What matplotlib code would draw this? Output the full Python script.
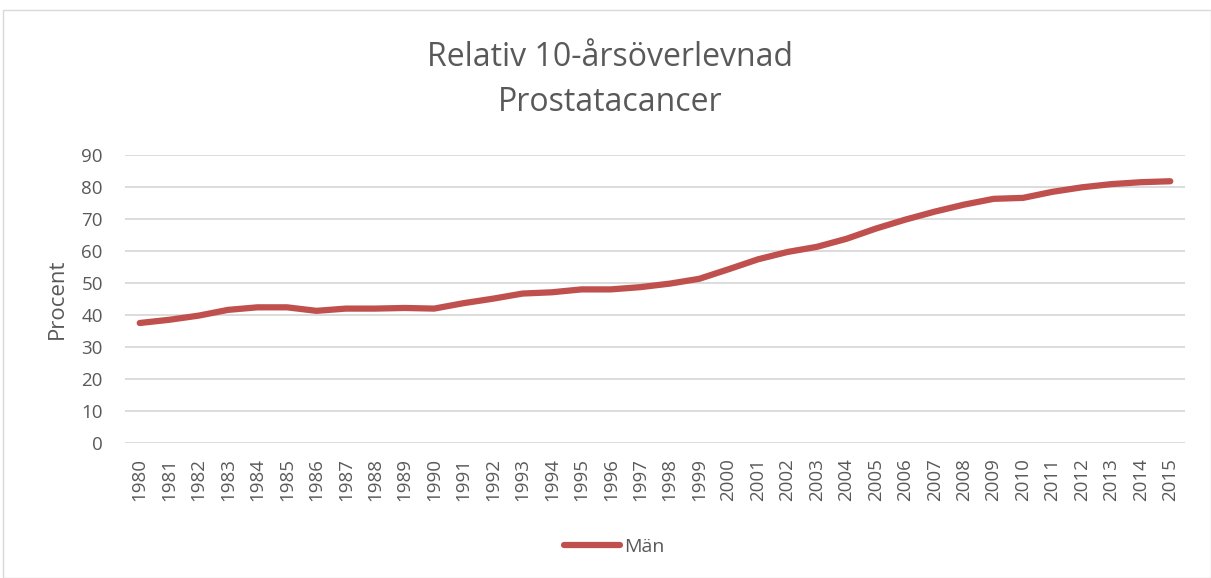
import matplotlib
matplotlib.use('agg')
import matplotlib.pyplot as plt
import matplotlib.patches as mpatches

years = list(range(1980, 2016))
man = [37.5, 38.5, 39.8, 41.6, 42.4, 42.4, 41.3, 42.0, 42.0, 42.2,
       42.0, 43.7, 45.1, 46.7, 47.1, 48.0, 48.0, 48.7, 49.8, 51.3,
       54.3, 57.4, 59.7, 61.3, 63.8, 67.0, 69.8, 72.3, 74.5, 76.3,
       76.6, 78.5, 79.9, 80.9, 81.5, 81.8]
yticks = list(range(0, 100, 10))

red = '#C0504D'
grey = '#595959'

plt.rcParams['font.family'] = ['Open Sans', 'DejaVu Sans']

fig = plt.figure(figsize=(12.11, 5.78), dpi=100)
# thin frame around the chart area, like the Excel chart border
fig.patches.append(mpatches.Rectangle((3/1211, 0), 1 - 3/1211, 1 - 10/578,
                                      transform=fig.transFigure, fill=False,
                                      edgecolor='#D9D9D9', linewidth=1))

ax = fig.add_axes([125/1211, 1 - 443/578, 1060/1211, 288/578])
xs = list(range(len(years)))
line, = ax.plot(xs, man, color=red, linewidth=4.5, solid_capstyle='round',
                solid_joinstyle='round', label='Män', zorder=3)

ax.set_xlim(-0.5, len(years) - 0.5)
ax.set_ylim(0, 90)
ax.set_yticks(yticks)
ax.set_xticks(xs)
ax.set_xticklabels([str(y) for y in years], rotation=90)
ax.tick_params(length=0, labelsize=13.5, labelcolor=grey)
ax.tick_params(axis='y', pad=16)
ax.tick_params(axis='x', pad=11)
for s in ax.spines.values():
    s.set_visible(False)
ax.grid(axis='y', color='#D9D9D9', linewidth=1.3)
ax.set_axisbelow(True)
ax.set_ylabel('Procent', fontsize=16, color=grey, labelpad=10)

fig.text(0.504, 1 - 80/578, 'Relativ 10-årsöverlevnad\nProstatacancer',
         ha='center', va='center', fontsize=23, color=grey, linespacing=1.45)

fig.legend(handles=[line], loc='center', bbox_to_anchor=(0.507, 1 - 547/578),
           frameon=False, fontsize=14, labelcolor=grey, handlelength=2.9,
           handletextpad=0.2)

fig.savefig('out.png', dpi=100)
